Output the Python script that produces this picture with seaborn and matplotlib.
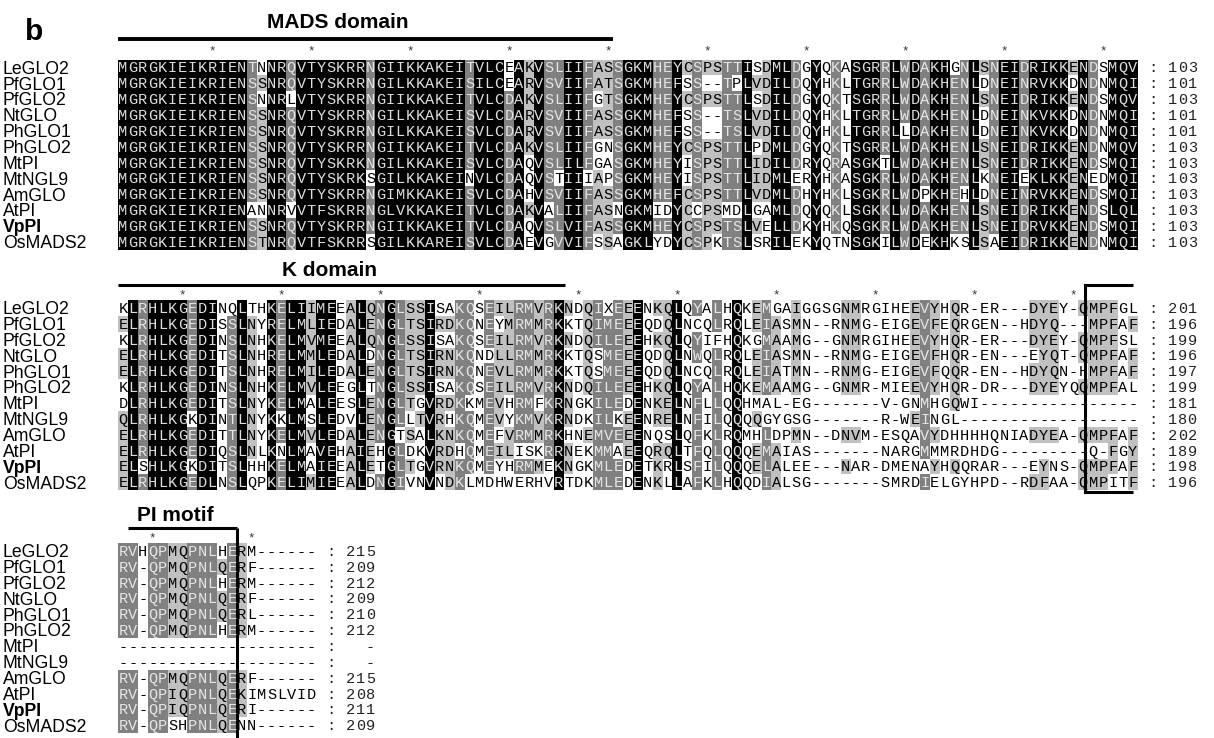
import numpy as np
import pandas as pd
import matplotlib
matplotlib.use("Agg")
import matplotlib.pyplot as plt
from matplotlib.colors import ListedColormap
import seaborn as sns

# ---------------- data ----------------
names = ["LeGLO2", "PfGLO1", "PfGLO2", "NtGLO", "PhGLO1", "PhGLO2",
         "MtPI", "MtNGL9", "AmGLO", "AtPI", "VpPI", "OsMADS2"]
bold_names = ["VpPI"]

block1 = [
    "MGRGKIEIKRIENTNNRQVTYSKRRNGIIKKAKEITVLCEAKVSLIIFASSGKMHEYCSPSTTISDMLDGYQKASGRRLWDAKHGNLSNEIDRIKKENDSMQV",
    "MGRGKIEIKRIENSSNRQVTYSKRRNGILKKAKEISILCEARVSVIIFATSGKMHEFSS--TPLVDILDQYHKLTGRRLWDAKHENLDNEINRVKKDNDNMQI",
    "MGRGKIEIKRIENSNNRLVTYSKRRNGIIKKAKEITVLCDAKVSLIIFGTSGKMHEYCSPSTTLSDILDGYQKTSGRRLWDAKHENLSNEIDRIKKENDSMQV",
    "MGRGKIEIKRIENSSNRQVTYSKRRNGILKKAKEISVLCDARVSVIIFASSGKMHEFSS--TSLVDILDQYHKLTGRRLWDAKHENLDNEINKVKKDNDNMQI",
    "MGRGKIEIKRIENSSNRQVTYSKRRNGILKKAKEISVLCDARVSVIIFASSGKMHEFSS--TSLVDILDQYHKLTGRRLLDAKHENLDNEINKVKKDNDNMQI",
    "MGRGKIEIKRIENSSNRQVTYSKRRNGIIKKAKEITVLCDAKVSLIIFGNSGKMHEYCSPSTTLPDMLDGYQKTSGRRLWDAKHENLSNEIDRIKKENDNMQV",
    "MGRGKIEIKRIENSSNRQVTYSKRKNGILKKAKEISVLCDAQVSLILFGASGKMHEYISPSTTLIDILDRYQRASGKTLWDAKHENLSNEIDRIKKENDSMQI",
    "MGRGKIEIKRIENSSNRQVTYSKRKSGILKKAKEINVLCDAQVSTIIIAPSGKMHEYISPSTTLIDMLERYHKASGKRLWDAKHENLKNEIEKLKKENEDMQI",
    "MGRGKIEIKRIENSSNRQVTYSKRRNGIMKKAKEISVLCDAHVSVIIFASSGKMHEFCSPSTTLVDMLDHYHKLSGKRLWDPKHEHLDNEINRVKKENDSMQI",
    "MGRGKIEIKRIENANNRVVTFSKRRNGLVKKAKEITVLCDAKVALIIFASNGKMIDYCCPSMDLGAMLDQYQKLSGKKLWDAKHENLSNEIDRIKKENDSLQL",
    "MGRGKIEIKRIENSSNRQVTYSKRRNGIIKKAKEITVLCDAQVSLVIFASSGKMHEYCSPSTSLVELLDKYHKQSGKRLWDAKHENLSNEIDRVKKENDSMQI",
    "MGRGKIEIKRIENSTNRQVTFSKRRSGILKKAREISVLCDAEVGVVIFSSAGKLYDYCSPKTSLSRILEKYQTNSGKILWDEKHKSLSAEIDRIKKENDNMQI",
]

block2 = [
    "KLRHLKGEDINQLTHKELIIMEEALQNGLSSISAK" + "QSEILRMVRKNDQIXEEENKQLQYALHQKEMGAIGGS" + "GNMRGIHEEVYHQR-ER---DYEY-QMPFGL",
    "ELRHLKGEDISSLNYRELMLIEDALENGLTSIRDK" + "QNEYMRMMRKKTQIMEEEQDQLNCQLRQLEIASMN--" + "RNMG-EIGEVFEQRGEN--HDYQ---MPFAF",
    "KLRHLKGEDINSLNHKELMVMEEALQNGLSSISAK" + "QSEILRMVRKNDQILEEEHKQLQYIFHQKGMAAMG--" + "GNMRGIHEEVYHQR-ER---DYEY-QMPFSL",
    "ELRHLKGEDITSLNHRELMMLEDALDNGLTSIRNK" + "QNDLLRMMRKKTQSMEEEQDQLNWQLRQLEIASMN--" + "RNMG-EIGEVFHQR-EN---EYQT-QMPFAF",
    "ELRHLKGEDITSLNHRELMILEDALENGLTSIRNK" + "QNEVLRMMRKKTQSMEEEQDQLNCQLRQLEIATMN--" + "RNMG-EIGEVFQQR-EN--HDYQN-HMPFAF",
    "KLRHLKGEDINSLNHKELMVLEEGLTNGLSSISAK" + "QSEILRMVRKNDQILEEEHKQLQYALHQKEMAAMG--" + "GNMR-MIEEVYHQR-DR---DYEYQQMPFAL",
    "DLRHLKGEDITSLNYKELMALEESLENGLTGVRDK" + "KMEVHRMFKRNGKILEDENKELNFLLQQHMAL-EG--" + "-----V-GNMHGQWI----------------",
    "QLRHLKGKDINTLNYKKLMSLEDVLENGLLTVRHK" + "QMEVYKMVKRNDKILKEENRELNFILQQQQGYGSG--" + "-----R-WEINGL------------------",
    "ELRHLKGEDITTLNYKELMVLEDALENGTSALKNK" + "QMEFVRMMRKHNEMVEEENQSLQFKLRQMHLDPMN--" + "DNVM-ESQAVYDHHHHQNIADYEA-QMPFAF",
    "ELRHLKGEDIQSLNLKNLMAVEHAIEHGLDKVRDH" + "QMEILISKRRNEKMMAEEQRQLTFQLQQQEMAIAS--" + "-----NARGMMMRDHDG---------Q-FGY",
    "ELSHLKGKDITSLHHKELMAIEEALETGLTGVRNK" + "QMEYHRMMEKNGKMLEDETKRLSFILQQQELALEE--" + "-NAR-DMENAYHQQRAR---EYNS-QMPFAF",
    "ELRHLKGEDLNSLQPKELIMIEEALDNGIVNVNDK" + "LMDHWERHVRTDKMLEDENKLLAFKLHQQDIALSG--" + "-----SMRDIELGYHPD--RDFAA-QMPITF",
]

block3 = [
    "RVHQPMQPNLHERM------",
    "RV-QPMQPNLQERF------",
    "RV-QPMQPNLHERM------",
    "RV-QPMQPNLQERF------",
    "RV-QPMQPNLQERL------",
    "RV-QPMQPNLHERM------",
    "--------------------",
    "--------------------",
    "RV-QPMQPNLQERF------",
    "RV-QPIQPNLQEKIMSLVID",
    "RV-QPIQPNLQERI------",
    "RV-QPSHPNLQENN------",
]

end1 = ["103", "101", "103", "101", "101", "103", "103", "103", "103", "103", "103", "103"]
end2 = ["201", "196", "199", "196", "197", "199", "181", "180", "202", "189", "198", "196"]
end3 = ["215", "209", "212", "209", "210", "212", "-", "-", "215", "208", "211", "209"]

titles = ["MADS domain", "K domain", "PI motif"]
star_cols1 = [10, 20, 30, 40, 50, 60, 70, 80, 90, 100]
star_cols2 = [7, 17, 27, 37, 47, 57, 67, 77, 87, 97]
star_cols3 = [4, 14]

# similarity groups used for conservation shading
groups = ["DN", "EQ", "ST", "KR", "FYW", "LIVM"]


def grp(c):
    for g in groups:
        if c in g:
            return g
    return c


def shade(seqs, ncol):
    seqs = [s.ljust(ncol, " ")[:ncol] for s in seqs]
    n = len(seqs)
    lev = np.zeros((n, ncol), int)
    for j in range(ncol):
        col = [s[j] for s in seqs]
        best, bestc, bestid = None, 0, 0
        for r in sorted(set(col)):
            if r in "-. ":
                continue
            g = grp(r)
            cnt = sum(1 for c in col if c not in "-. " and grp(c) == g)
            idc = col.count(r)
            if (cnt, idc) > (bestc, bestid):
                best, bestc, bestid = g, cnt, idc
        if best is None:
            continue
        frac = bestc / n
        level = 3 if frac >= 0.999 else 2 if frac >= 0.8 else 1 if frac >= 0.55 else 0
        for i, c in enumerate(col):
            if c not in "-. " and grp(c) == best:
                lev[i, j] = level
    return seqs, lev


# ---------------- layout ----------------
W, H = 1214, 738
X0 = 118.0
CW = 9.9
P = 15.85

sns.set_theme(style="white")
fig = plt.figure(figsize=(W / 100, H / 100), dpi=100)
fig.patch.set_facecolor("white")

cmap = ListedColormap(["#ffffff", "#c0c0c0", "#808080", "#000000"])
txt_col = {0: "#000000", 1: "#000000", 2: "#e6e6e6", 3: "#dedede"}

blocks = [
    dict(seqs=block1, ncol=103, top=59.5, ends=end1, stars=star_cols1, star_y=48),
    dict(seqs=block2, ncol=103, top=300.0, ends=end2, stars=star_cols2, star_y=292),
    dict(seqs=block3, ncol=20, top=543.0, ends=end3, stars=star_cols3, star_y=535),
]

prepared = []
for b in blocks:
    seqs, lev = shade(b["seqs"], b["ncol"])
    w = b["ncol"] * CW
    h = len(seqs) * P
    ax = fig.add_axes([X0 / W, 1 - (b["top"] + h) / H, w / W, h / H])
    sns.heatmap(pd.DataFrame(lev), ax=ax, cmap=cmap, vmin=-0.5, vmax=3.5,
                cbar=False, xticklabels=False, yticklabels=False, linewidths=0)
    ax.set_xlabel("")
    ax.set_ylabel("")
    prepared.append((b, seqs, lev))

ov = fig.add_axes([0, 0, 1, 1])
ov.set_xlim(0, W)
ov.set_ylim(H, 0)
ov.axis("off")

MONO = "Liberation Mono"
SANS = "Liberation Sans"

for b, seqs, lev in prepared:
    top = b["top"]
    ncol = b["ncol"]
    for i, s in enumerate(seqs):
        yc = top + (i + 0.5) * P
        # sequence letters
        for j, ch in enumerate(s):
            if ch == " ":
                continue
            ov.text(X0 + (j + 0.5) * CW, yc + 5.0, ch, ha="center", va="baseline",
                    fontsize=11, family=MONO, color=txt_col[int(lev[i, j])])
        # end numbers
        tail = ": " + b["ends"][i].rjust(3)
        for k, ch in enumerate(tail):
            if ch == " ":
                continue
            ov.text(X0 + (ncol + 1 + k + 0.5) * CW, yc + 5.0, ch, ha="center",
                    va="baseline", fontsize=11, family=MONO, color="#222222")
        # row labels
        ov.text(3, yc + 6.3, names[i], ha="left", va="baseline", fontsize=12.7,
                family=SANS, color="black",
                fontweight="bold" if names[i] in bold_names else "normal")
    for c in b["stars"]:
        ov.text(X0 + (c - 0.5) * CW, b["star_y"] + 6.5, "*", ha="center",
                va="baseline", fontsize=9, family=MONO, color="#333333")

# panel letter
ov.text(25, 40, "b", ha="left", va="baseline", fontsize=21.5, fontweight="bold",
        family=SANS, color="black")

# domain titles and bars
ov.text(337.5, 28, titles[0], ha="center", va="baseline", fontsize=15,
        fontweight="bold", family=SANS, color="black")
ov.plot([118, 613], [39, 39], color="black", lw=2.8, solid_capstyle="butt")

ov.text(329.5, 275.5, titles[1], ha="center", va="baseline", fontsize=15,
        fontweight="bold", family=SANS, color="black")
ov.plot([118, 565], [285, 285], color="black", lw=2.2, solid_capstyle="butt")

ov.text(175, 521, titles[2], ha="center", va="baseline", fontsize=15,
        fontweight="bold", family=SANS, color="black")
ov.plot([128, 237], [528, 528], color="black", lw=2.2, solid_capstyle="butt")
ov.plot([237, 237], [528, 738], color="black", lw=2.2, solid_capstyle="butt")

# bracket around the C-terminal PI-derived region of block 2
ov.plot([1133, 1085, 1085, 1133], [285, 285, 492, 492], color="black", lw=2.2,
        solid_joinstyle="miter", solid_capstyle="butt")

fig.savefig("out.png", dpi=100, facecolor="white")
